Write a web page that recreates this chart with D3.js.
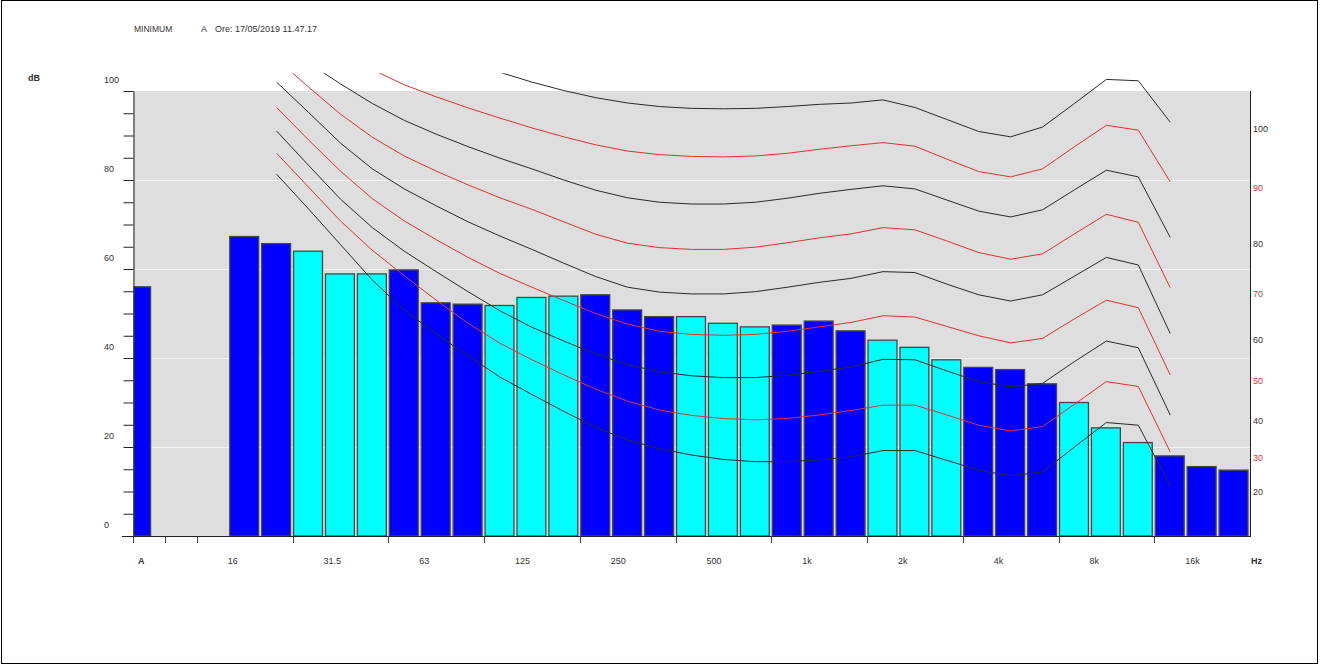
<!DOCTYPE html>
<html>
<head>
<meta charset="utf-8">
<script src="https://cdn.jsdelivr.net/npm/d3@7"></script>
<style>
    html, body { margin: 0; padding: 0; background: #fff; }
    svg { display: block; font-family: "Liberation Sans", Arial, sans-serif; }
</style>
</head>
<body>
<svg id="chart" width="1320" height="666"></svg>
<script>
// =========================================================================
// Data
// =========================================================================

const bands = ['16', '20', '25', '31.5', '40', '50', '63', '80', '100', '125', '160',
    '200', '250', '315', '400', '500', '630', '800', '1k', '1.25k', '1.6k', '2k',
    '2.5k', '3.15k', '4k', '5k', '6.3k', '8k', '10k', '12.5k', '16k', '20k'];

const levelA = 56.0;
const levels = [67.3, 65.7, 64.0, 58.9, 58.9, 59.8, 52.4, 52.1, 51.8, 53.6, 53.9,
    54.2, 50.8, 49.3, 49.3, 47.8, 47.0, 47.4, 48.3, 46.1, 44.0, 42.4,
    39.6, 37.9, 37.4, 34.2, 30.0, 24.3, 21.0, 18.0, 15.6, 14.8];

// contours run from 20 Hz to 12.5 kHz
const contourBands = bands.slice(1, 30);
const phon20  = [81.3, 73.5, 65.5, 57.5, 50.8, 45.4, 40.5, 35.7, 31.8, 28.0, 24.4, 21.6, 19.6, 18.2, 17.2, 16.7, 16.7, 17.1, 17.8, 19.2, 19.2, 17.0, 14.8, 13.5, 14.4, 20.0, 25.5, 24.9, 11.3];
const phon30  = [86.0, 78.4, 70.8, 64.2, 58.5, 53.0, 47.8, 43.3, 39.6, 36.2, 33.0, 30.3, 28.3, 27.1, 26.4, 26.1, 26.4, 27.2, 28.2, 29.4, 29.4, 27.2, 24.9, 23.6, 24.6, 29.6, 34.7, 33.6, 18.9];
const phon40  = [91.0, 83.3, 75.7, 69.3, 64.0, 59.4, 54.9, 50.6, 46.9, 43.8, 40.9, 38.5, 36.9, 36.0, 35.6, 35.6, 36.1, 37.0, 38.0, 39.7, 39.6, 37.1, 34.7, 33.5, 34.3, 39.2, 43.8, 42.3, 27.2];
const phon50  = [96.3, 89.0, 82.0, 75.8, 70.8, 66.6, 62.6, 59.0, 55.9, 52.9, 50.0, 47.6, 46.0, 45.3, 45.1, 45.3, 46.0, 47.0, 48.0, 49.5, 49.2, 47.1, 45.0, 43.4, 44.4, 48.8, 53.0, 51.3, 36.2];
const phon60  = [102.0, 95.2, 88.3, 82.5, 78.0, 74.2, 70.6, 67.4, 64.4, 61.3, 58.3, 55.9, 54.8, 54.4, 54.4, 54.9, 55.9, 57.0, 57.9, 59.4, 59.2, 56.6, 54.2, 52.8, 54.2, 58.4, 62.6, 60.9, 45.5];
const phon70  = [107.2, 100.9, 94.8, 89.6, 85.4, 82.0, 78.9, 76.0, 73.4, 70.6, 67.8, 65.8, 64.8, 64.4, 64.4, 64.9, 65.9, 67.0, 67.9, 69.3, 68.8, 66.3, 63.7, 62.2, 63.4, 67.9, 72.3, 70.5, 55.8];
const phon80  = [111.5, 106.3, 101.6, 97.2, 93.4, 90.3, 87.5, 84.9, 82.5, 80.0, 77.7, 76.0, 75.0, 74.6, 74.6, 75.0, 75.9, 77.0, 77.9, 78.7, 78.0, 75.5, 73.0, 71.7, 73.3, 77.8, 82.2, 80.7, 67.1];
const phon90  = [119.0, 114.0, 109.0, 104.8, 101.4, 98.7, 96.2, 93.9, 91.7, 89.7, 87.9, 86.5, 85.7, 85.3, 85.2, 85.4, 86.0, 86.9, 87.7, 88.4, 87.6, 84.7, 81.9, 80.7, 82.5, 87.5, 92.3, 91.2, 79.6];
const phon100 = [134.0, 128.0, 122.5, 117.5, 113.5, 110.0, 106.8, 104.2, 102.0, 100.1, 98.5, 97.3, 96.5, 96.1, 96.0, 96.1, 96.5, 97.0, 97.3, 98.0, 96.3, 93.6, 90.9, 89.7, 91.9, 97.2, 102.6, 102.3, 93.0];

const contours = [
    { phon: 20, values: phon20 }, { phon: 30, values: phon30 }, { phon: 40, values: phon40 },
    { phon: 50, values: phon50 }, { phon: 60, values: phon60 }, { phon: 70, values: phon70 },
    { phon: 80, values: phon80 }, { phon: 90, values: phon90 }, { phon: 100, values: phon100 }
];

const yLabels = [0, 20, 40, 60, 80, 100];
const xLabels = ['16', '31.5', '63', '125', '250', '500', '1k', '2k', '4k', '8k', '16k'];
const xTickSlots = ['A', 'e1', 'e2', '25', '50', '100', '200', '400', '800', '1.6k', '3.15k', '6.3k', '12.5k'];

// =========================================================================
// Scales
// =========================================================================

const svg = d3.select('#chart');
const slots = ['A', 'e1', 'e2', ...bands];
const x = d3.scaleBand().domain(slots).range([133, 1250]);
const y = d3.scaleLinear().domain([0, 100]).range([536, 91]);
const bw = x.bandwidth();
const textCol = '#333';
const redCol = '#e23232';

// outer frame
svg.append('rect')
    .attr('x', 1.5).attr('y', 0.5).attr('width', 1316).attr('height', 663)
    .attr('fill', 'none').attr('stroke', '#000');

// header
svg.append('text').attr('x', 134).attr('y', 32).attr('font-size', 8.5).attr('fill', textCol).text('MINIMUM');
svg.append('text').attr('x', 201).attr('y', 32).attr('font-size', 9).attr('fill', textCol).text('A');
svg.append('text').attr('x', 215).attr('y', 32).attr('font-size', 9).attr('fill', textCol).text('Ore: 17/05/2019 11.47.17');

// plot background + grid
svg.append('rect')
    .attr('x', 133).attr('y', y(100)).attr('width', 1250 - 133).attr('height', y(0) - y(100))
    .attr('fill', '#dedede');

svg.append('g').selectAll('line').data([20, 40, 60, 80]).join('line')
    .attr('x1', 134).attr('x2', 1250)
    .attr('y1', d => y(d) + 0.5).attr('y2', d => y(d) + 0.5)
    .attr('stroke', '#f2f2f2').attr('stroke-width', 1);

// =========================================================================
// Bars
// =========================================================================

const barStroke = '#474747';

svg.append('rect')
    .attr('x', x('A') + 1).attr('y', y(levelA))
    .attr('width', bw * 0.52).attr('height', y(0) - y(levelA))
    .attr('fill', '#0000ff').attr('stroke', barStroke).attr('stroke-width', 1.3);

svg.append('g').selectAll('rect').data(bands).join('rect')
    .attr('x', d => x(d) + 1)
    .attr('y', (d, i) => y(levels[i]))
    .attr('width', bw - 3)
    .attr('height', (d, i) => y(0) - y(levels[i]))
    .attr('fill', (d, i) => Math.floor((i + 1) / 3) % 2 === 0 ? '#0000ff' : '#00ffff')
    .attr('stroke', barStroke).attr('stroke-width', 1.3);

// =========================================================================
// Equal loudness contours
// =========================================================================

svg.append('clipPath').attr('id', 'plotClip')
    .append('rect')
    .attr('x', 133).attr('y', y(104)).attr('width', 1250 - 133).attr('height', y(0) - y(104));

const line = d3.line()
    .x((d, i) => x(contourBands[i]) + bw / 2)
    .y(d => y(d));

svg.append('g').attr('clip-path', 'url(#plotClip)')
    .selectAll('path').data(contours).join('path')
    .attr('d', c => line(c.values))
    .attr('fill', 'none')
    .attr('stroke', c => c.phon % 20 === 0 ? '#2a2a2a' : redCol)
    .attr('stroke-width', 1);

// right-hand phon labels at curve ends
svg.append('g').selectAll('text').data(contours).join('text')
    .attr('x', 1253)
    .attr('y', c => y(c.values[c.values.length - 1]) + 9.5)
    .attr('font-size', 9)
    .attr('fill', c => c.phon % 20 === 0 ? textCol : redCol)
    .text(c => c.phon);

// =========================================================================
// Axes
// =========================================================================

const leftAxis = d3.axisLeft(y)
    .tickValues(d3.range(0, 101, 5))
    .tickSize(10).tickSizeOuter(0)
    .tickFormat('');
const gl = svg.append('g').attr('transform', 'translate(133.5,0)').call(leftAxis);
gl.selectAll('line').attr('stroke', '#222');
gl.select('.domain').attr('stroke', '#222');

svg.append('g').selectAll('text').data(yLabels).join('text')
    .attr('x', 104).attr('y', d => y(d) - 8.5)
    .attr('font-size', 9).attr('fill', textCol)
    .text(d => d);

svg.append('text').attr('x', 28).attr('y', 81)
    .attr('font-size', 9).attr('font-weight', 'bold').attr('fill', textCol).text('dB');

// bottom axis
svg.append('line')
    .attr('x1', 122).attr('x2', 1250).attr('y1', 536.5).attr('y2', 536.5)
    .attr('stroke', '#222');
svg.append('g').selectAll('line').data(xTickSlots).join('line')
    .attr('x1', d => Math.round(x(d)) + 0.5).attr('x2', d => Math.round(x(d)) + 0.5)
    .attr('y1', 536).attr('y2', 543)
    .attr('stroke', '#444');

// right axis
svg.append('line')
    .attr('x1', 1250.5).attr('x2', 1250.5).attr('y1', y(100)).attr('y2', 537)
    .attr('stroke', '#222');

svg.append('g').selectAll('text').data(xLabels).join('text')
    .attr('x', d => x(d) - 1).attr('y', 564)
    .attr('font-size', 9).attr('fill', textCol)
    .text(d => d);

svg.append('text').attr('x', x('A') + 5).attr('y', 564)
    .attr('font-size', 9).attr('font-weight', 'bold').attr('fill', textCol).text('A');
svg.append('text').attr('x', 1251).attr('y', 564)
    .attr('font-size', 9).attr('font-weight', 'bold').attr('fill', textCol).text('Hz');
</script>
</body>
</html>
